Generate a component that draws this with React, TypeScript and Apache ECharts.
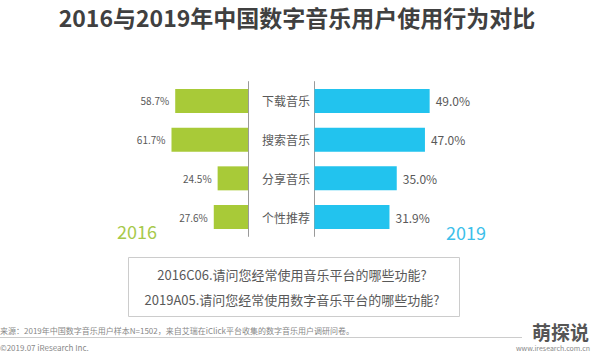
import React, { useEffect, useRef } from "react";
import * as echarts from "echarts";

const categories = ["下载音乐", "搜索音乐", "分享音乐", "个性推荐"];
const values2016 = [58.7, 61.7, 24.5, 27.6];
const values2019 = [49.0, 47.0, 35.0, 31.9];
const titleText = "2016与2019年中国数字音乐用户使用行为对比";
const questionLines = [
  "2016C06.请问您经常使用音乐平台的哪些功能?",
  "2019A05.请问您经常使用数字音乐平台的哪些功能?",
];
const sourceText = "来源：2019年中国数字音乐用户样本N=1502，来自艾瑞在iClick平台收集的数字音乐用户调研问卷。";
const copyrightText = "©2019.07 iResearch Inc.";
const siteText = "www.iresearch.com.cn";
const watermarkText = "萌探说";

const GREEN = "#A8CA38";
const BLUE = "#22C3EE";
const FONT = "'Noto Sans CJK SC', 'Noto Sans', sans-serif";

export default function App() {
  const ref = useRef<HTMLDivElement>(null);
  useEffect(() => {
    if (!ref.current) return;
    const chart = echarts.init(ref.current, null, { renderer: "svg" });
    chart.setOption({
      animation: false,
      backgroundColor: "#ffffff",
      textStyle: { fontFamily: FONT },
      title: {
        text: titleText,
        left: "center",
        top: 0,
        textStyle: { fontSize: 23, fontWeight: "bold", color: "#404040", fontFamily: FONT },
      },
      grid: [
        { left: 124, width: 124, top: 81.6, height: 154.8 },
        { left: 314.5, width: 235, top: 81.6, height: 154.8 },
      ],
      xAxis: [
        { gridIndex: 0, type: "value", min: 0, max: 100, inverse: true, show: false },
        { gridIndex: 1, type: "value", min: 0, max: 100, show: false },
      ],
      yAxis: [
        {
          gridIndex: 0,
          type: "category",
          data: categories,
          inverse: true,
          position: "right",
          axisLine: { show: true, lineStyle: { color: "#9a9a9a", width: 1 } },
          axisTick: { show: false },
          axisLabel: { margin: 14, fontSize: 12, color: "#595959", fontFamily: FONT },
        },
        {
          gridIndex: 1,
          type: "category",
          data: categories,
          inverse: true,
          position: "left",
          axisLine: { show: true, lineStyle: { color: "#9a9a9a", width: 1 } },
          axisTick: { show: false },
          axisLabel: { show: false },
        },
      ],
      series: [
        {
          type: "bar",
          xAxisIndex: 0,
          yAxisIndex: 0,
          data: values2016,
          barWidth: 24,
          itemStyle: { color: GREEN },
          label: {
            show: true,
            position: "left",
            distance: 6,
            fontSize: 10,
            color: "#595959",
            formatter: (p: any) => p.value.toFixed(1) + "%",
          },
        },
        {
          type: "bar",
          xAxisIndex: 1,
          yAxisIndex: 1,
          data: values2019,
          barWidth: 24,
          itemStyle: { color: BLUE },
          label: {
            show: true,
            position: "right",
            distance: 6,
            fontSize: 12,
            color: "#595959",
            formatter: (p: any) => p.value.toFixed(1) + "%",
          },
        },
      ],
      graphic: [
        {
          type: "text",
          left: 117,
          top: 222,
          style: { text: "2016", fontSize: 18, fill: "#A7C94B", fontFamily: FONT },
        },
        {
          type: "text",
          left: 446,
          top: 223,
          style: { text: "2019", fontSize: 18, fill: "#3DBFEA", fontFamily: FONT },
        },
        {
          type: "rect",
          shape: { x: 128.5, y: 257.5, width: 331, height: 59 },
          style: { fill: "#ffffff", stroke: "#cccccc", lineWidth: 1 },
        },
        {
          type: "text",
          x: 292,
          y: 274,
          style: {
            text: questionLines[0],
            fontSize: 13,
            fill: "#595959",
            align: "center",
            verticalAlign: "middle",
            fontFamily: FONT,
          },
        },
        {
          type: "text",
          x: 292,
          y: 299,
          style: {
            text: questionLines[1],
            fontSize: 13,
            fill: "#595959",
            align: "center",
            verticalAlign: "middle",
            fontFamily: FONT,
          },
        },
        {
          type: "text",
          x: 0,
          y: 330,
          style: { text: sourceText, fontSize: 8, fill: "#888888", verticalAlign: "middle", fontFamily: FONT },
        },
        {
          type: "line",
          shape: { x1: 0, y1: 337.5, x2: 522, y2: 337.5 },
          style: { stroke: "#cccccc", lineWidth: 1 },
        },
        {
          type: "text",
          x: 0,
          y: 347,
          style: { text: copyrightText, fontSize: 8, fill: "#888888", verticalAlign: "middle", fontFamily: FONT },
        },
        {
          type: "text",
          x: 589,
          y: 331,
          style: {
            text: watermarkText,
            fontSize: 19,
            lineHeight: 19,
            fontWeight: "bold",
            fill: "#555555",
            align: "right",
            verticalAlign: "middle",
            fontFamily: FONT,
          },
        },
        {
          type: "text",
          x: 590,
          y: 348,
          style: {
            text: siteText,
            fontSize: 7,
            lineHeight: 7,
            fill: "#888888",
            align: "right",
            verticalAlign: "middle",
            fontFamily: FONT,
          },
        },
      ],
    });
    return () => chart.dispose();
  }, []);
  return (
    <div
      ref={ref}
      style={{ position: "fixed", left: 0, top: 0, width: 594, height: 352 }}
    />
  );
}
